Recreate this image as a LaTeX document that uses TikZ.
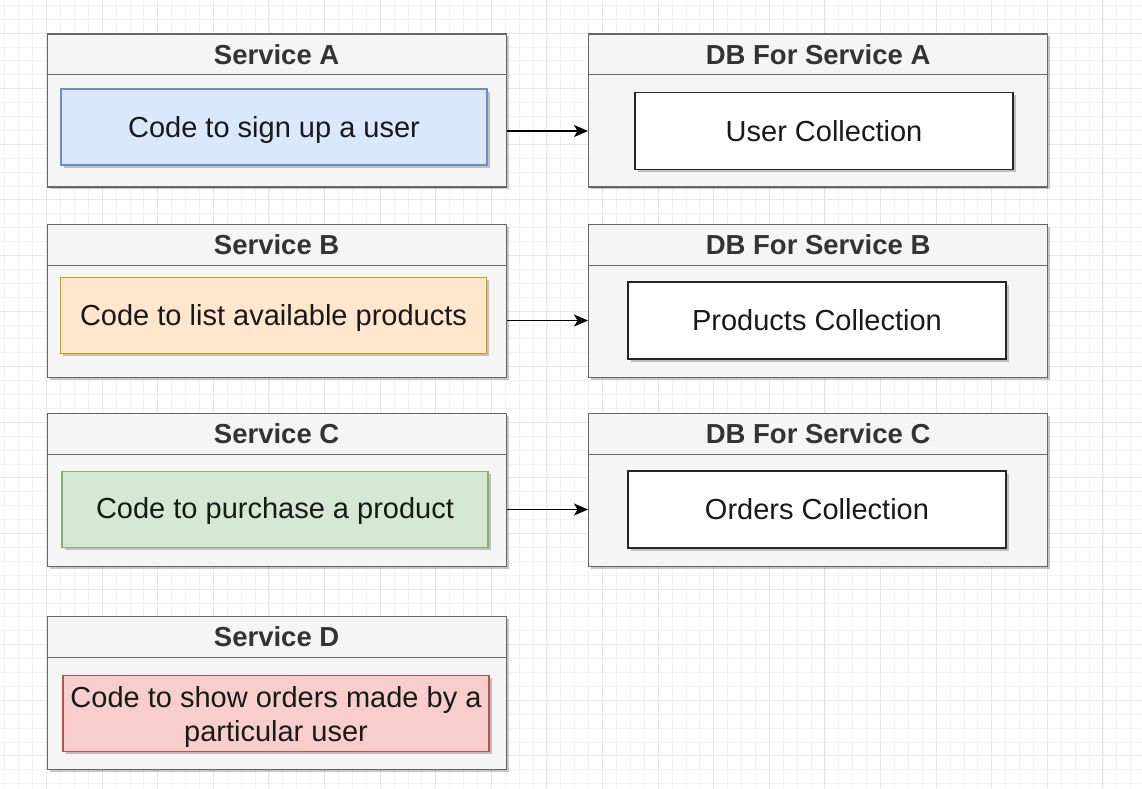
\documentclass[tikz,border=0pt]{standalone}
\usepackage{fontspec}
\setmainfont{Liberation Sans}
\usetikzlibrary{arrows.meta,shadows}
\definecolor{cfill}{HTML}{F5F5F5}
\definecolor{cline}{HTML}{666666}
\definecolor{ctext}{HTML}{333333}
\definecolor{bfill}{HTML}{DAE8FC}\definecolor{bline}{HTML}{6C8EBF}
\definecolor{ofill}{HTML}{FFE6CC}\definecolor{oline}{HTML}{D79B00}
\definecolor{gfill}{HTML}{D5E8D4}\definecolor{gline}{HTML}{82B366}
\definecolor{rfill}{HTML}{F8CECC}\definecolor{rline}{HTML}{B85450}
\definecolor{gridminor}{HTML}{F3F3F3}
\definecolor{gridmajor}{HTML}{E6E6E6}
\begin{document}
\begin{tikzpicture}[x=1pt,y=-1pt,
  shad/.style={drop shadow={shadow xshift=2.5pt,shadow yshift=-2.5pt,fill=black,opacity=0.22}},
  container/.style={draw=cline,fill=cfill,line width=1.3pt,minimum width=459pt,minimum height=153pt,anchor=north west,inner sep=0pt,shad},
  header/.style={font=\fontsize{27.5}{32}\selectfont\bfseries,text=ctext,inner sep=0pt},
  codebox/.style={line width=1.3pt,minimum width=426pt,minimum height=76pt,inner sep=0pt,shad},
  codetext/.style={font=\fontsize{29}{34}\selectfont,align=center,text=black!90,inner sep=0pt},
  dbbox/.style={draw=black!85,fill=white,line width=1.3pt,minimum width=378pt,minimum height=77pt,inner sep=0pt,font=\fontsize{29}{34}\selectfont,text=black!90,shad},
  link/.style={line width=1.3pt,-{Stealth[length=14pt,width=12pt,inset=3.5pt]}}
]
\useasboundingbox (0,0) rectangle (1142,788);
\fill[white] (0,0) rectangle (1142,788);
% grid
\foreach \i in {-3,...,78} \draw[gridminor,line width=0.8pt] ({46.5+13.9*\i},0) -- ({46.5+13.9*\i},788);
\foreach \j in {-2,...,54} \draw[gridminor,line width=0.8pt] (0,{33+13.9*\j}) -- (1142,{33+13.9*\j});
\foreach \i in {0,...,19} \draw[gridmajor,line width=1pt] ({46.5+55.6*\i},0) -- ({46.5+55.6*\i},788);
\foreach \j in {0,...,13} \draw[gridmajor,line width=1pt] (0,{33+55.6*\j}) -- (1142,{33+55.6*\j});

% containers
\node[container] (sa) at (46.5,33.3) {};
\node[container] (sb) at (46.5,224) {};
\node[container] (sc) at (46.5,413) {};
\node[container] (sd) at (46.5,616) {};
\node[container] (da) at (588,33.3) {};
\node[container] (db) at (588,224) {};
\node[container] (dc) at (588,413) {};

\foreach \n in {sa,sb,sc,sd,da,db,dc}
  \draw[cline,line width=1.3pt] ([yshift=-41.5pt]\n.north west) -- ([yshift=-41.5pt]\n.north east);

\node[header] (ha) at ([yshift=-21pt]sa.north) {Service A};
\node[header] (hb) at ([yshift=-21pt]sb.north) {Service B};
\node[header] (hc) at ([yshift=-21pt]sc.north) {Service C};
\node[header] (hd) at ([yshift=-21pt]sd.north) {Service D};
\node[header] (hda) at ([yshift=-21pt]da.north) {DB For Service A};
\node[header] (hdb) at ([yshift=-21pt]db.north) {DB For Service B};
\node[header] (hdc) at ([yshift=-21pt]dc.north) {DB For Service C};

% code boxes
\node[codebox,draw=bline,fill=bfill] (ca) at (274,127) {};
\node[codebox,draw=oline,fill=ofill] (cb) at (273.5,315.5) {};
\node[codebox,draw=gline,fill=gfill] (cc) at (275,509.5) {};
\node[codebox,draw=rline,fill=rfill] (cd) at (276,713.5) {};
\node[codetext] (ta) at ([yshift=-3pt]ca.center) {Code to sign up a user};
\node[codetext] (tb) at ([yshift=-2pt]cb.center) {Code to list available products};
\node[codetext] (tc) at ([yshift=-1.5pt]cc.center) {Code to purchase a product};
\node[codetext] (td) at ([yshift=-3pt]cd.center) {Code to show orders made by a\\particular user};

% db boxes
\node[dbbox] (ua) at (824,131) {User Collection};
\node[dbbox] (ub) at (817,320.5) {Products Collection};
\node[dbbox] (uc) at (817,509.5) {Orders Collection};

% arrows
\draw[link] (sa.east |- ua.west) -- (da.west |- ua.west);
\draw[link] (sb.east |- ub.west) -- (db.west |- ub.west);
\draw[link] (sc.east |- uc.west) -- (dc.west |- uc.west);
\end{tikzpicture}
\end{document}
